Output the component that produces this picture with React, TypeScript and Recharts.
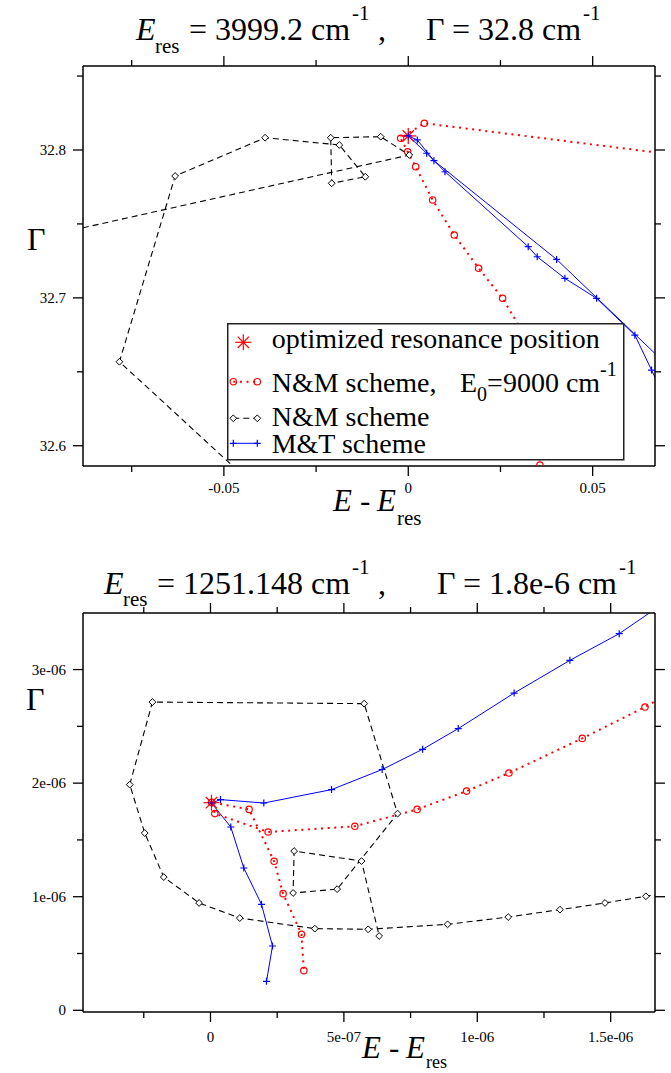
import React from "react";
import { ComposedChart, Line, XAxis, YAxis, Legend } from "recharts";

const SERIF = '"Liberation Serif", "Times New Roman", Times, serif';
const RED = "#ff0000";
const BLUE = "#0000ff";

// upper panel: E_res = 3999.2 cm-1, Gamma = 32.8 cm-1
const upperOptimum = [{ x: 0, y: 32.8095 }];

const upperNM9000 = [
  { x: 0.08, y: 32.7943 },
  { x: 0.00434, y: 32.8181 },
  { x: -0.00206, y: 32.8079 },
  { x: -0.00016, y: 32.7988 },
  { x: 0.00201, y: 32.7887 },
  { x: 0.00661, y: 32.7662 },
  { x: 0.01247, y: 32.7425 },
  { x: 0.01908, y: 32.72 },
  { x: 0.02558, y: 32.6997 },
  { x: 0.03154, y: 32.6748 },
  { x: 0.03569, y: 32.5869 },
];

const upperNM = [
  { x: -0.12, y: 32.7297 },
  { x: 0.00027, y: 32.7966 },
  { x: -0.00748, y: 32.809 },
  { x: -0.02103, y: 32.8083 },
  { x: -0.02076, y: 32.7775 },
  { x: -0.01165, y: 32.7819 },
  { x: -0.0187, y: 32.8034 },
  { x: -0.03883, y: 32.8083 },
  { x: -0.06322, y: 32.7824 },
  { x: -0.07832, y: 32.6568 },
  { x: -0.03163, y: 32.5497 },
];

const upperMT = [
  { x: 0.07363, y: 32.611 },
  { x: 0.06596, y: 32.6512 },
  { x: 0.06144, y: 32.6748 },
  { x: 0.05106, y: 32.6997 },
  { x: 0.04247, y: 32.7132 },
  { x: 0.03496, y: 32.7278 },
  { x: 0.03252, y: 32.7346 },
  { x: 0.00995, y: 32.7853 },
  { x: 0.00499, y: 32.7978 },
  { x: 0, y: 32.8095 },
  { x: 0.00244, y: 32.8068 },
  { x: 0.00696, y: 32.7928 },
  { x: 0.04022, y: 32.726 },
  { x: 0.07905, y: 32.6334 },
];

const upperXMajor = [-0.05, 0, 0.05];
const upperXMinor = [-0.075, -0.025, 0.025];
const upperXLabels = ["-0.05", "0", "0.05"];
const upperYMajor = [32.6, 32.7, 32.8];
const upperYMinor = [32.65, 32.75, 32.85];
const upperYLabels = ["32.6", "32.7", "32.8"];

// lower panel: E_res = 1251.148 cm-1, Gamma = 1.8e-6 cm-1
const lowerOptimum = [{ x: 0.00375e-6, y: 1.828e-6 }];

const lowerNM9000 = [
  { x: 1.835e-6, y: 2.936e-6 },
  { x: 1.6286e-6, y: 2.67e-6 },
  { x: 1.3935e-6, y: 2.394e-6 },
  { x: 1.1186e-6, y: 2.089e-6 },
  { x: 0.96e-6, y: 1.93e-6 },
  { x: 0.7747e-6, y: 1.769e-6 },
  { x: 0.5411e-6, y: 1.62e-6 },
  { x: 0.216e-6, y: 1.57e-6 },
  { x: 0.0161e-6, y: 1.732e-6 },
  { x: 0.00375e-6, y: 1.831e-6 },
  { x: 0.1447e-6, y: 1.769e-6 },
  { x: 0.2385e-6, y: 1.312e-6 },
  { x: 0.2722e-6, y: 1.027e-6 },
  { x: 0.3412e-6, y: 0.669e-6 },
  { x: 0.3499e-6, y: 0.349e-6 },
];

const lowerNM = [
  { x: 1.835e-6, y: 1.081e-6 },
  { x: 1.632e-6, y: 1.004e-6 },
  { x: 1.4786e-6, y: 0.945e-6 },
  { x: 1.3099e-6, y: 0.886e-6 },
  { x: 1.116e-6, y: 0.821e-6 },
  { x: 0.8887e-6, y: 0.757e-6 },
  { x: 0.591e-6, y: 0.713e-6 },
  { x: 0.3911e-6, y: 0.719e-6 },
  { x: 0.1099e-6, y: 0.812e-6 },
  { x: -0.0427e-6, y: 0.945e-6 },
  { x: -0.1751e-6, y: 1.173e-6 },
  { x: -0.2464e-6, y: 1.561e-6 },
  { x: -0.3026e-6, y: 1.987e-6 },
  { x: -0.2175e-6, y: 2.714e-6 },
  { x: 0.576e-6, y: 2.7e-6 },
  { x: 0.7012e-6, y: 1.732e-6 },
  { x: 0.4747e-6, y: 1.067e-6 },
  { x: 0.3097e-6, y: 1.033e-6 },
  { x: 0.3135e-6, y: 1.402e-6 },
  { x: 0.5662e-6, y: 1.314e-6 },
  { x: 0.6322e-6, y: 0.654e-6 },
];

const lowerMT = [
  { x: 1.7974e-6, y: 3.744e-6 },
  { x: 1.532e-6, y: 3.316e-6 },
  { x: 1.347e-6, y: 3.081e-6 },
  { x: 1.138e-6, y: 2.793e-6 },
  { x: 0.9285e-6, y: 2.48e-6 },
  { x: 0.795e-6, y: 2.298e-6 },
  { x: 0.6435e-6, y: 2.12e-6 },
  { x: 0.4537e-6, y: 1.943e-6 },
  { x: 0.1999e-6, y: 1.825e-6 },
  { x: 0.0375e-6, y: 1.855e-6 },
  { x: 0.00375e-6, y: 1.825e-6 },
  { x: 0.0761e-6, y: 1.614e-6 },
  { x: 0.1249e-6, y: 1.253e-6 },
  { x: 0.1912e-6, y: 0.933e-6 },
  { x: 0.2325e-6, y: 0.566e-6 },
  { x: 0.21e-6, y: 0.255e-6 },
];

const lowerXMajor = [0, 5e-7, 1e-6, 1.5e-6];
const lowerXMinor = [-2.5e-7, 2.5e-7, 7.5e-7, 1.25e-6];
const lowerXLabels = ["0", "5e-07", "1e-06", "1.5e-06"];
const lowerYMajor = [0, 1e-6, 2e-6, 3e-6];
const lowerYMinor = [5e-7, 1.5e-6, 2.5e-6];
const lowerYLabels = ["0", "1e-06", "2e-06", "3e-06"];

type Side = "bottom" | "top" | "left" | "right";

const tickText = { fontFamily: SERIF, fontSize: 15 };

const makeTick =
  (side: Side, major: number[], labels?: string[], gap = 27) =>
  (props: any) => {
    const { x, y, payload, index } = props;
    const i = major.indexOf(payload.value);
    const len = i >= 0 ? 10 : 6;
    let x2 = x;
    let y2 = y;
    if (side === "bottom") y2 = y + len;
    if (side === "top") y2 = y - len;
    if (side === "left") x2 = x - len;
    if (side === "right") x2 = x + len;
    return (
      <g key={`${side}-${index}`}>
        <line x1={x} y1={y} x2={x2} y2={y2} stroke="#000" strokeWidth={1.3} />
        {labels && i >= 0 && side === "bottom" && (
          <text x={x} y={y + gap} textAnchor="middle" fill="#000" style={tickText}>
            {labels[i]}
          </text>
        )}
        {labels && i >= 0 && side === "left" && (
          <text x={x - 17} y={y + 5} textAnchor="end" fill="#000" style={tickText}>
            {labels[i]}
          </text>
        )}
      </g>
    );
  };

const Star = ({ cx, cy, r = 8 }: { cx: number; cy: number; r?: number }) => {
  const d = r * 0.707;
  return (
    <g stroke={RED} strokeWidth={1.2}>
      <line x1={cx - r} y1={cy} x2={cx + r} y2={cy} />
      <line x1={cx} y1={cy - r} x2={cx} y2={cy + r} />
      <line x1={cx - d} y1={cy - d} x2={cx + d} y2={cy + d} />
      <line x1={cx - d} y1={cy + d} x2={cx + d} y2={cy - d} />
    </g>
  );
};

const circleMark = (cx: number, cy: number, key?: string) => (
  <circle key={key} cx={cx} cy={cy} r={3.2} fill="none" stroke={RED} strokeWidth={1.2} />
);
const diamondMark = (cx: number, cy: number, key?: string) => (
  <path
    key={key}
    d={`M${cx},${cy - 3.4} L${cx + 3.4},${cy} L${cx},${cy + 3.4} L${cx - 3.4},${cy} Z`}
    fill="#fff"
    stroke="#000"
    strokeWidth={1}
  />
);
const plusMark = (cx: number, cy: number, key?: string) => (
  <path
    key={key}
    d={`M${cx - 3.5},${cy} H${cx + 3.5} M${cx},${cy - 3.5} V${cy + 3.5}`}
    stroke={BLUE}
    strokeWidth={1.2}
  />
);

const starDot = (p: any) => <g key={`s${p.index}`}>{p.cx != null && <Star cx={p.cx} cy={p.cy} />}</g>;
const circleDot = (p: any) => (p.cx == null ? <g key={`c${p.index}`} /> : circleMark(p.cx, p.cy, `c${p.index}`));
const diamondDot = (p: any) => (p.cx == null ? <g key={`d${p.index}`} /> : diamondMark(p.cx, p.cy, `d${p.index}`));
const plusDot = (p: any) => (p.cx == null ? <g key={`p${p.index}`} /> : plusMark(p.cx, p.cy, `p${p.index}`));

const UpperLegend = () => (
  <svg width={398} height={138} style={{ display: "block" }}>
    <rect x={0.75} y={0.75} width={396} height={136} fill="#fff" stroke="#222" strokeWidth={1.5} />
    <Star cx={16.3} cy={19.3} />
    <g fontFamily={SERIF} fontSize={28} fill="#000">
      <text x={44.7} y={25.3}>optimized resonance position</text>
      <text x={44.7} y={68.7}>
        {"N&M scheme,"}
        <tspan x={233}>E</tspan>
        <tspan dy={9} fontSize={20}>0</tspan>
        <tspan dy={-9}>=9000 cm</tspan>
        <tspan dy={-16} fontSize={20}>-1</tspan>
      </text>
      <text x={44.7} y={103}>{"N&M scheme"}</text>
      <text x={44.7} y={130}>{"M&T scheme"}</text>
    </g>
    <line x1={6.3} y1={58.7} x2={30.3} y2={58.7} stroke={RED} strokeWidth={2} strokeDasharray="2 4.6" />
    {circleMark(6.3, 58.7)}
    {circleMark(30.3, 58.7)}
    <line x1={6.3} y1={95.3} x2={30.3} y2={95.3} stroke="#000" strokeWidth={1.1} strokeDasharray="6 4" />
    {diamondMark(6.3, 95.3)}
    {diamondMark(30.3, 95.3)}
    <line x1={6.3} y1={120.3} x2={30.3} y2={120.3} stroke={BLUE} strokeWidth={1} />
    {plusMark(6.3, 120.3)}
    {plusMark(30.3, 120.3)}
  </svg>
);

const axisLine = { stroke: "#000", strokeWidth: 1.5 };

interface PanelProps {
  height: number;
  margin: { top: number; right: number; bottom: number; left: number };
  xDomain: [number, number];
  yDomain: [number, number];
  xMajor: number[];
  xMinor: number[];
  xLabels: string[];
  yMajor: number[];
  yMinor: number[];
  yLabels: string[];
  labelGap: number;
  optimum: { x: number; y: number }[];
  nm9000: { x: number; y: number }[];
  nm: { x: number; y: number }[];
  mt: { x: number; y: number }[];
  legend?: boolean;
}

// axes get 1px of room each (an axis of size 0 is not drawn), so margins are 1px smaller
const Panel: React.FC<PanelProps> = (p) => {
  const xTicks = [...p.xMajor, ...p.xMinor];
  const yTicks = [...p.yMajor, ...p.yMinor];
  const m = {
    top: p.margin.top - 1,
    right: p.margin.right - 1,
    bottom: p.margin.bottom - 1,
    left: p.margin.left - 1,
  };
  return (
    <ComposedChart width={671} height={p.height} margin={m}>
      <XAxis
        type="number"
        dataKey="x"
        domain={p.xDomain}
        allowDataOverflow
        ticks={xTicks}
        interval={0}
        height={1}
        tickSize={0}
        tickMargin={0}
        tickLine={false}
        axisLine={axisLine}
        tick={makeTick("bottom", p.xMajor, p.xLabels, p.labelGap)}
      />
      <XAxis
        xAxisId="top"
        orientation="top"
        type="number"
        dataKey="x"
        domain={p.xDomain}
        allowDataOverflow
        ticks={xTicks}
        interval={0}
        height={1}
        tickSize={0}
        tickMargin={0}
        tickLine={false}
        axisLine={axisLine}
        tick={makeTick("top", p.xMajor)}
      />
      <YAxis
        type="number"
        dataKey="y"
        domain={p.yDomain}
        allowDataOverflow
        ticks={yTicks}
        interval={0}
        width={1}
        tickSize={0}
        tickMargin={0}
        tickLine={false}
        axisLine={axisLine}
        tick={makeTick("left", p.yMajor, p.yLabels)}
      />
      <YAxis
        yAxisId="right"
        orientation="right"
        type="number"
        dataKey="y"
        domain={p.yDomain}
        allowDataOverflow
        ticks={yTicks}
        interval={0}
        width={1}
        tickSize={0}
        tickMargin={0}
        tickLine={false}
        axisLine={axisLine}
        tick={makeTick("right", p.yMajor)}
      />
      <Line
        name="optimized resonance position"
        data={p.optimum}
        dataKey="y"
        stroke="none"
        dot={starDot}
        activeDot={false}
        isAnimationActive={false}
      />
      <Line
        name="N&M scheme, E0=9000 cm-1"
        data={p.nm9000}
        dataKey="y"
        type="linear"
        stroke={RED}
        strokeWidth={2}
        strokeDasharray="2 4.6"
        dot={circleDot}
        activeDot={false}
        isAnimationActive={false}
      />
      <Line
        name="N&M scheme"
        data={p.nm}
        dataKey="y"
        type="linear"
        stroke="#000"
        strokeWidth={1.1}
        strokeDasharray="6 4"
        dot={diamondDot}
        activeDot={false}
        isAnimationActive={false}
      />
      <Line
        name="M&T scheme"
        data={p.mt}
        dataKey="y"
        type="linear"
        stroke={BLUE}
        strokeWidth={1}
        dot={plusDot}
        activeDot={false}
        isAnimationActive={false}
      />
      {p.legend && (
        <Legend
          layout="vertical"
          align="center"
          verticalAlign="middle"
          content={() => <UpperLegend />}
          wrapperStyle={{ left: 227, top: 323, width: 398, height: 138 }}
        />
      )}
    </ComposedChart>
  );
};

const Titles = () => (
  <svg
    width={671}
    height={1073}
    style={{ position: "absolute", left: 0, top: 0, pointerEvents: "none" }}
  >
    <g fontFamily={SERIF} fill="#000">
      {/* upper title */}
      <text fontSize={32}>
        <tspan x={136} y={40} fontStyle="italic">E</tspan>
        <tspan x={155} y={53} fontSize={21}>res</tspan>
        <tspan x={189} y={40}>= 3999.2 cm</tspan>
        <tspan x={352} y={20} fontSize={21}>-1</tspan>
        <tspan x={378} y={40}>,</tspan>
        <tspan x={426} y={40}>Γ</tspan>
        <tspan x={452} y={40}>= 32.8 cm</tspan>
        <tspan x={583} y={20} fontSize={21}>-1</tspan>
      </text>
      <text x={27} y={250} fontSize={32}>Γ</text>
      <text fontSize={31}>
        <tspan x={333} y={511} fontStyle="italic">E</tspan>
        <tspan x={360} y={511}>-</tspan>
        <tspan x={377} y={511} fontStyle="italic">E</tspan>
        <tspan x={397} y={525} fontSize={21}>res</tspan>
      </text>

      {/* lower title */}
      <text fontSize={32}>
        <tspan x={104} y={594} fontStyle="italic">E</tspan>
        <tspan x={123} y={606} fontSize={21}>res</tspan>
        <tspan x={157} y={594}>= 1251.148 cm</tspan>
        <tspan x={352} y={574} fontSize={21}>-1</tspan>
        <tspan x={378} y={594}>,</tspan>
        <tspan x={437} y={594}>Γ</tspan>
        <tspan x={463} y={594}>= 1.8e-6 cm</tspan>
        <tspan x={619} y={574} fontSize={21}>-1</tspan>
      </text>
      <text x={26} y={710} fontSize={32}>Γ</text>
      <text fontSize={31}>
        <tspan x={362} y={1058} fontStyle="italic">E</tspan>
        <tspan x={389} y={1058}>-</tspan>
        <tspan x={406} y={1058} fontStyle="italic">E</tspan>
        <tspan x={426} y={1068} fontSize={18}>res</tspan>
      </text>
    </g>
  </svg>
);

export default function App() {
  return (
    <div
      style={{
        position: "absolute",
        left: 0,
        top: 0,
        width: 671,
        height: 1073,
        background: "#fff",
        overflow: "hidden",
      }}
    >
      <div style={{ position: "absolute", left: 0, top: 0 }}>
        <Panel
          height={540}
          margin={{ top: 66, right: 16, bottom: 74, left: 83 }}
          xDomain={[-0.0882, 0.0669]}
          yDomain={[32.5863, 32.8568]}
          xMajor={upperXMajor}
          xMinor={upperXMinor}
          xLabels={upperXLabels}
          yMajor={upperYMajor}
          yMinor={upperYMinor}
          yLabels={upperYLabels}
          labelGap={27}
          optimum={upperOptimum}
          nm9000={upperNM9000}
          nm={upperNM}
          mt={upperMT}
          legend
        />
      </div>
      <div style={{ position: "absolute", left: 0, top: 540 }}>
        <Panel
          height={533}
          margin={{ top: 73, right: 16, bottom: 61, left: 83 }}
          xDomain={[-0.4778e-6, 1.6661e-6]}
          yDomain={[-0.015e-6, 3.498e-6]}
          xMajor={lowerXMajor}
          xMinor={lowerXMinor}
          xLabels={lowerXLabels}
          yMajor={lowerYMajor}
          yMinor={lowerYMinor}
          yLabels={lowerYLabels}
          labelGap={30}
          optimum={lowerOptimum}
          nm9000={lowerNM9000}
          nm={lowerNM}
          mt={lowerMT}
        />
      </div>
      <Titles />
    </div>
  );
}
